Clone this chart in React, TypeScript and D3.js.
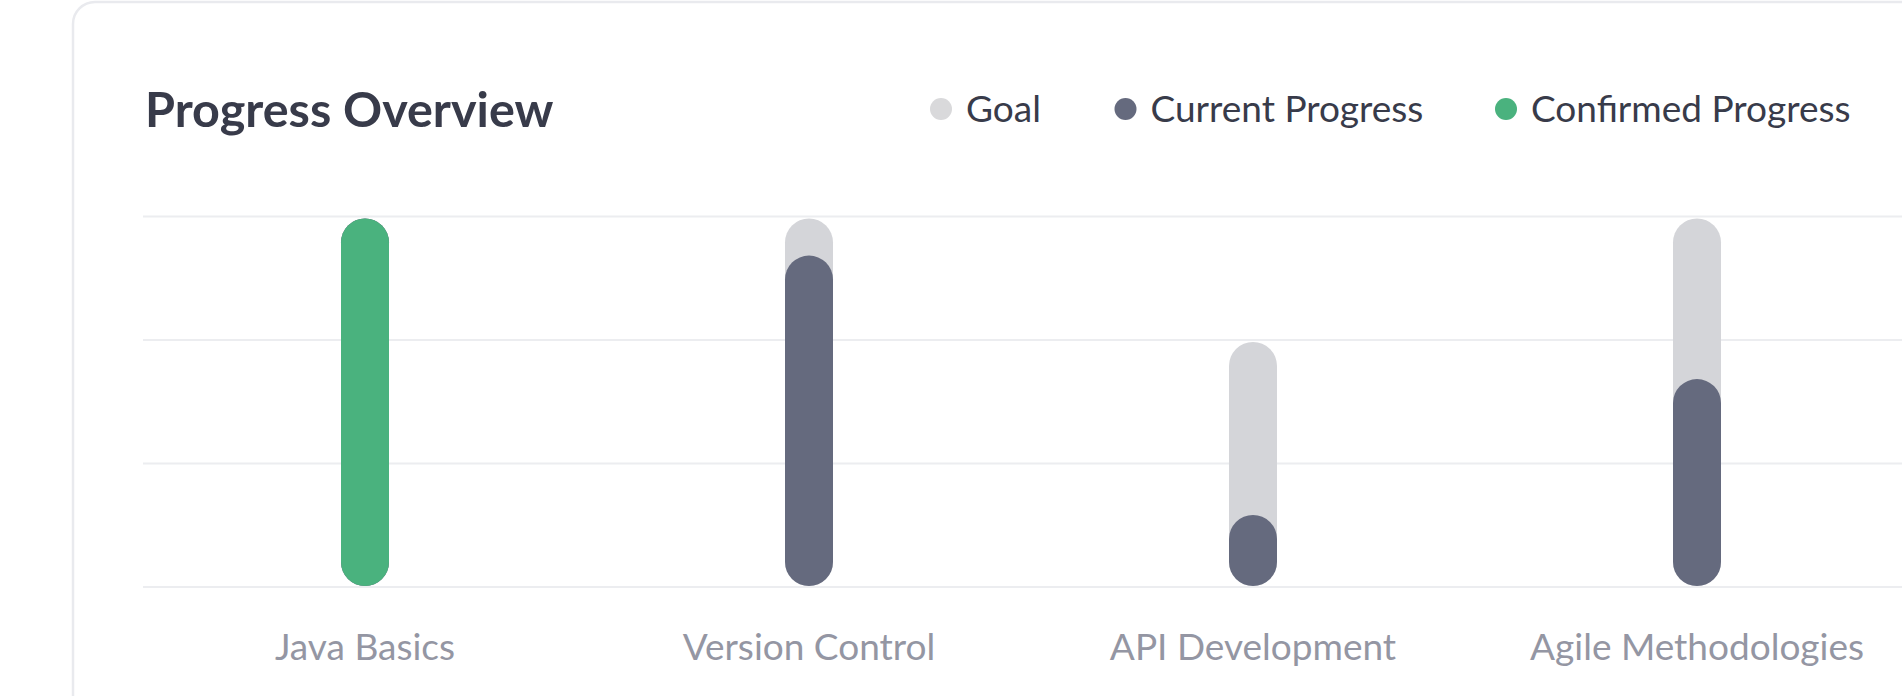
import React from "react";
import * as d3 from "d3";

const categories = ["Java Basics", "Version Control", "API Development", "Agile Methodologies"];
const goalValues = [30, 30, 20, 30];
const currentValues = [30, 27, 6, 17];
const confirmedValues = [30, 0, 0, 0];
const yTicks = [0, 10, 20, 30];

const legendItems = [
  { label: "Goal", color: "#d9d9db" },
  { label: "Current Progress", color: "#656a7e" },
  { label: "Confirmed Progress", color: "#4ab27e" },
];
const legendDotX = [941, 1125.5, 1506];

const W = 1902;
const H = 696;
const FONT = "Lato, 'Noto Sans', sans-serif";

export default function App() {
  const x = d3.scalePoint<string>().domain(categories).range([143, 1919]).padding(0.5);
  const y = d3.scaleLinear().domain([0, 30]).range([587, 216.5]);
  const barW = 48;

  const pill = (cx: number, v: number, color: string, key: string) => {
    if (v <= 0) return null;
    const top = y(v) + 2;
    const bottom = y(0) - 1;
    return (
      <rect
        key={key}
        x={cx - barW / 2}
        y={top}
        width={barW}
        height={bottom - top}
        rx={barW / 2}
        ry={barW / 2}
        fill={color}
      />
    );
  };

  return (
    <svg
      width={W}
      height={H}
      style={{ position: "absolute", left: 0, top: 0, display: "block", background: "#ffffff" }}
    >
      <rect x={73} y={2} width={1960} height={760} rx={22} ry={22} fill="#ffffff" stroke="#e9eaee" strokeWidth={2.5} />
      <text x={145} y={127} fontFamily={FONT} fontWeight={700} fontSize={48.5} fill="#383b4a">
        Progress Overview
      </text>
      {legendItems.map((it, i) => (
        <g key={it.label}>
          <circle cx={legendDotX[i]} cy={109} r={11} fill={it.color} />
          <text x={legendDotX[i] + 25} y={122} fontFamily={FONT} fontSize={37} fill="#383b4a">
            {it.label}
          </text>
        </g>
      ))}
      {yTicks.map((t) => (
        <line key={t} x1={143} x2={1960} y1={y(t)} y2={y(t)} stroke="#ecedf0" strokeWidth={2} />
      ))}
      {categories.map((c, i) => {
        const cx = x(c) as number;
        return (
          <g key={c}>
            {pill(cx, goalValues[i], "#d4d5d9", "g")}
            {pill(cx, currentValues[i], "#656a7e", "c")}
            {pill(cx, confirmedValues[i], "#4ab27e", "f")}
            <text x={cx} y={660} textAnchor="middle" fontFamily={FONT} fontSize={37} fill="#9496a3">
              {c}
            </text>
          </g>
        );
      })}
    </svg>
  );
}
